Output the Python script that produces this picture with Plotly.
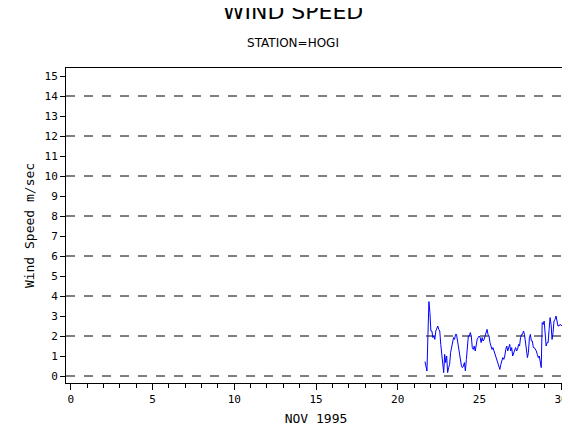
import numpy as np
import plotly.graph_objects as go

speed = [0.72,0.5,0.25,2.08,3.72,3.17,2.25,2.25,1.92,2.0,1.83,2.25,2.42,2.5,2.33,2.25,1.58,1.08,0.58,0.17,
1.08,0.67,1.0,0.17,0.42,0.58,1.17,1.42,1.75,1.92,1.83,2.08,2.08,1.75,1.33,1.08,0.75,0.5,0.42,0.5,
0.67,0.25,0.83,1.5,2.0,2.0,2.17,2.0,1.42,1.33,1.5,1.25,1.67,1.83,1.92,2.0,1.92,1.67,1.92,1.75,
1.83,2.0,2.25,2.33,2.08,2.0,1.67,1.5,1.33,1.42,1.25,1.17,0.92,0.75,0.58,0.42,0.33,0.58,0.75,0.92,
0.83,1.0,1.33,1.5,1.25,1.42,1.58,1.25,1.42,1.0,1.17,1.33,1.42,1.25,1.33,1.58,1.5,1.92,2.08,2.08,
2.25,2.08,1.67,1.25,0.92,1.17,1.92,2.08,1.75,1.75,1.42,1.42,1.33,1.25,1.08,0.92,1.0,0.75,0.42,2.67,
2.58,2.75,2.25,1.5,1.67,1.67,2.33,2.92,2.58,1.83,2.17,2.75,2.83,3.0,2.75,2.5,2.5,2.58,2.55,2.5]
day = np.linspace(21.67, 30.05, len(speed))

fig = go.Figure(go.Scatter(x=day, y=speed, mode="lines", line=dict(color="blue", width=1)))
ax = dict(showline=True, linecolor="black", mirror=True, ticks="outside", tickcolor="black",
          showgrid=False, zeroline=False)
fig.update_layout(
    width=570, height=430, plot_bgcolor="white", paper_bgcolor="white",
    margin=dict(l=58, r=10, t=60, b=55), showlegend=False,
    font=dict(family="DejaVu Sans Mono, monospace", size=11, color="black"),
    title=dict(text="WIND SPEED<br><span style='font-size:12px'>STATION=HOGI</span>",
               x=0.5, xanchor="center", y=0.975, yanchor="top", font=dict(size=22, family="DejaVu Sans")),
    xaxis=dict(ax, range=[-0.3, 30.3], tickvals=[0,5,10,15,20,25,30], ticklen=6,
               minor=dict(tickvals=list(range(31)), ticks="outside", ticklen=4, tickcolor="black"),
               title=dict(text="NOV 1995", standoff=8)),
    yaxis=dict(ax, range=[-0.35, 15.4], tickvals=list(range(16)), ticklen=5,
               title=dict(text="Wind Speed m/sec", standoff=6)),
)
for v in range(0, 15, 2):
    fig.add_hline(y=v, line=dict(color="black", width=1, dash="dash"), layer="below")
fig.write_html("out.html")
